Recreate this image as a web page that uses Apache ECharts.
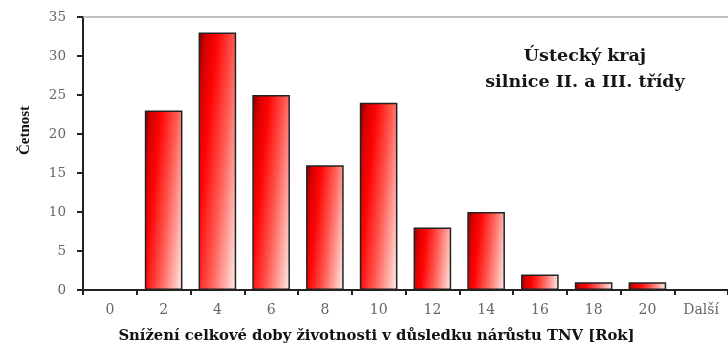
<!DOCTYPE html>
<html>
<head>
<meta charset="utf-8">
<script src="https://cdn.jsdelivr.net/npm/echarts@6/dist/echarts.min.js"></script>
<style>
  html, body { margin: 0; padding: 0; background: #fff; }
  #chart { width: 728px; height: 355px; }
</style>
</head>
<body>
<div id="chart"></div>
<script>
// Histogram: reduction of total service life due to TNV growth
const categories = ['0', '2', '4', '6', '8', '10', '12', '14', '16', '18', '20', 'Další'];
const counts = [0, 23, 33, 25, 16, 24, 8, 10, 2, 1, 1, 0];
const yTicks = { min: 0, max: 35, interval: 5 };

const SERIF = '"DejaVu Serif", "Liberation Serif", serif';
const NARROW_SERIF = '"Liberation Serif", "DejaVu Serif", serif';
const BAR_RATIO = 0.70;
const TILT = 0.1; // slant of the shading across each bar

const gradientStops = [
  { offset: 0, color: '#7d0000' },
  { offset: 0.12, color: '#d40000' },
  { offset: 0.3, color: '#ff0505' },
  { offset: 0.58, color: '#ff5a52' },
  { offset: 1, color: '#fff1ec' }
];

const chart = echarts.init(document.getElementById('chart'), null, { renderer: 'canvas' });

const option = {
  animation: false,
  backgroundColor: '#fff',
  title: {
    text: 'Ústecký kraj\nsilnice II. a III. třídy',
    left: 580,
    top: 38,
    textAlign: 'center',
    textStyle: {
      fontFamily: SERIF,
      fontWeight: 'bold',
      fontSize: 17.5,
      lineHeight: 26,
      color: '#151515'
    }
  },
  grid: { left: 83, right: -3, top: 17, bottom: 65 },
  xAxis: [{
    type: 'category',
    data: categories,
    boundaryGap: true,
    name: 'Snížení celkové doby životnosti v důsledku nárůstu TNV [Rok]',
    nameLocation: 'middle',
    nameGap: 39,
    nameTextStyle: {
      fontFamily: SERIF,
      fontWeight: 'bold',
      fontSize: 14.8,
      color: '#111',
      padding: [0, 58, 0, 0]
    },
    axisLine: { lineStyle: { color: '#222', width: 2 } },
    axisTick: { show: true, alignWithLabel: false, length: 5, lineStyle: { color: '#222', width: 2 } },
    axisLabel: { fontFamily: SERIF, fontSize: 14, color: '#666', margin: 13 }
  }, {
    type: 'category',
    data: categories,
    position: 'top',
    axisLine: { lineStyle: { color: '#aaa', width: 1.5 } },
    axisTick: { show: false },
    axisLabel: { show: false }
  }],
  yAxis: {
    type: 'value',
    min: yTicks.min,
    max: yTicks.max,
    interval: yTicks.interval,
    name: 'Četnost',
    nameLocation: 'middle',
    nameGap: 50,
    nameRotate: 90,
    nameTextStyle: {
      fontFamily: NARROW_SERIF,
      fontWeight: 'bold',
      fontSize: 15,
      color: '#111',
      padding: [0, 0, 0, 46]
    },
    splitLine: { show: false },
    axisLine: { show: true, lineStyle: { color: '#222', width: 2 } },
    axisTick: { show: true, length: 6, lineStyle: { color: '#222', width: 2 } },
    axisLabel: { fontFamily: SERIF, fontSize: 13.5, color: '#666', margin: 17 }
  },
  series: [{
    type: 'bar',
    data: counts,
    barWidth: (BAR_RATIO * 100) + '%',
    itemStyle: { color: '#e00000', borderColor: '#222', borderWidth: 1.5 }
  }]
};

chart.setOption(option);

// Shade every bar with a slanted red-to-pale gradient sized from its own box
const x0 = chart.convertToPixel({ xAxisIndex: 0 }, 0);
const x1 = chart.convertToPixel({ xAxisIndex: 0 }, 1);
const barW = Math.abs(x1 - x0) * BAR_RATIO;
const yZero = chart.convertToPixel({ yAxisIndex: 0 }, 0);

const shaded = counts.map(function (v) {
  const h = Math.max(1, Math.abs(yZero - chart.convertToPixel({ yAxisIndex: 0 }, v)));
  const len = (barW + TILT * h) / (1 + TILT * TILT);
  return {
    value: v,
    itemStyle: {
      color: {
        type: 'linear',
        x: 0, y: 0,
        x2: len / barW,
        y2: (len * TILT) / h,
        colorStops: gradientStops
      }
    }
  };
});

chart.setOption({ series: [{ data: shaded }] });
</script>
</body>
</html>
